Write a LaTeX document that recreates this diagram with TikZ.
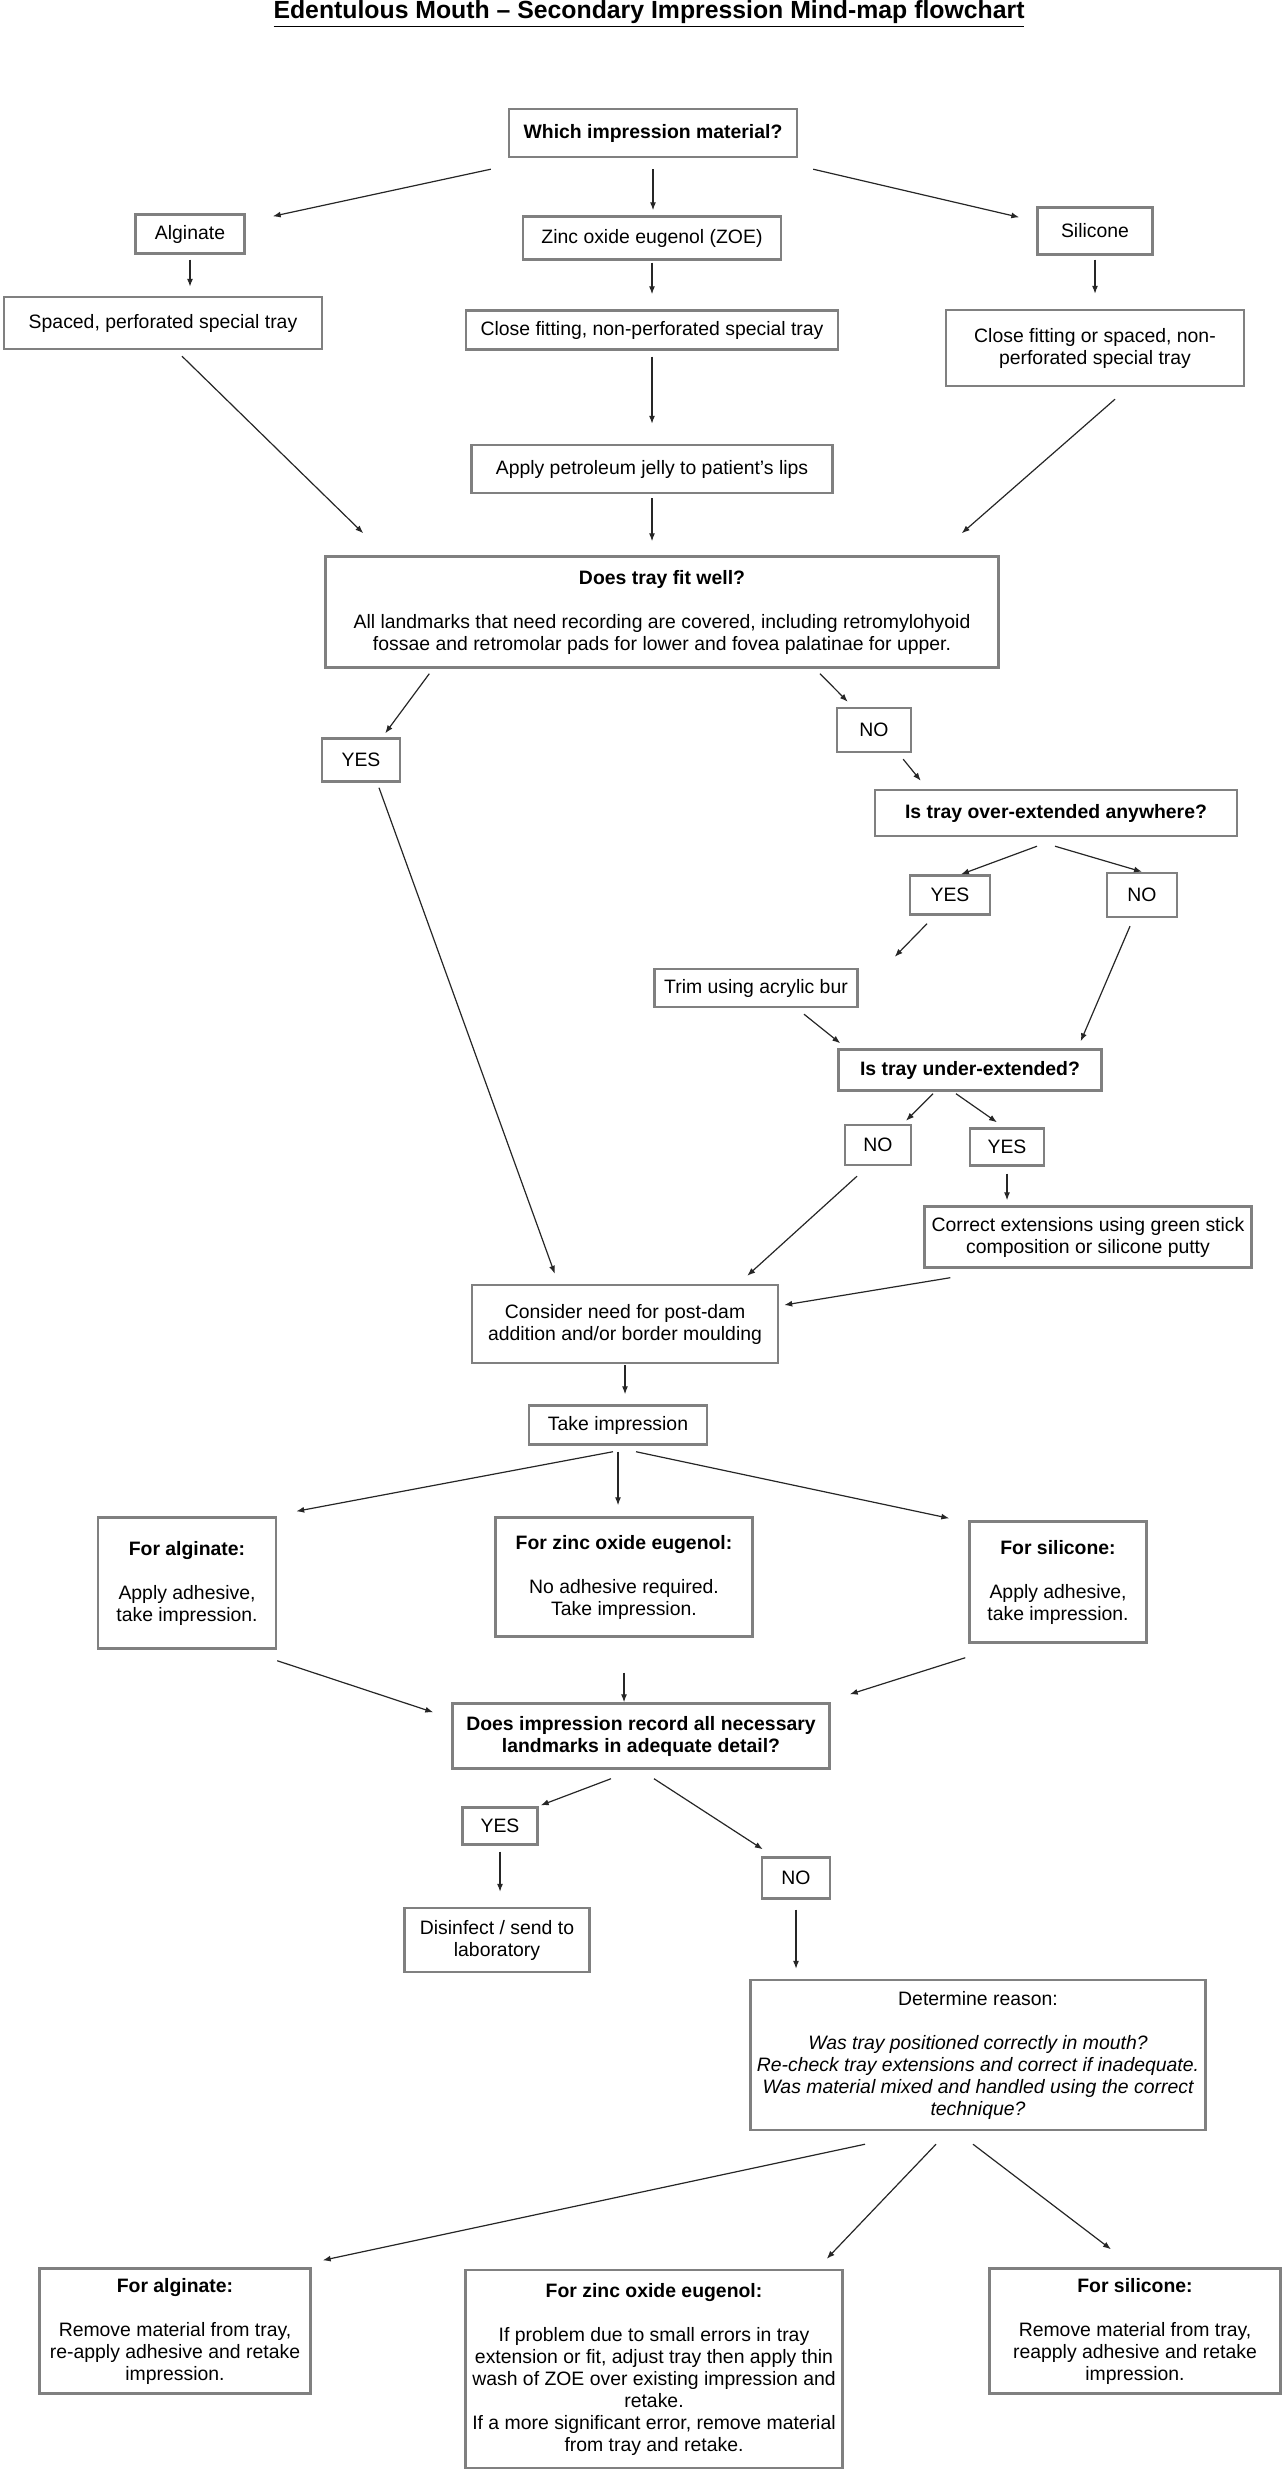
\documentclass[tikz,border=0pt]{standalone}
\usepackage{fontspec}
\setmainfont{Liberation Sans}
\usetikzlibrary{arrows.meta}

\tikzset{
  box/.style={draw=black!50, line width=1.2pt, fill=white, align=center, inner sep=0pt,
    font=\fontsize{9.7}{11}\selectfont},
  boldbox/.style={box, font=\fontsize{9.7}{11}\selectfont\bfseries},
  sz/.style 2 args={minimum width=#1*0.5pt, minimum height=#2*0.5pt},
  arr/.style={-{Latex[length=4pt,width=3pt]}, line width=0.6pt, black!85}
}

\begin{document}
\begin{tikzpicture}[x=0.5pt, y=-0.5pt]
  \useasboundingbox (0,0) rectangle (1286,2490);

  \node[font=\fontsize{12.4}{14}\selectfont\bfseries] (title) at (649,14)
    {\underline{Edentulous Mouth – Secondary Impression Mind-map flowchart}};

  % material and trays
  \node[boldbox, sz={288}{48}] (material) at (653,133) {Which impression material?};
  \node[box, sz={109}{39}] (alginate) at (190,234) {Alginate};
  \node[box, sz={258}{43}] (zoe) at (652,238) {Zinc oxide eugenol (ZOE)};
  \node[box, sz={115}{47}] (silicone) at (1095,231) {Silicone};
  \node[box, sz={318}{52}] (trayA) at (163,323) {Spaced, perforated special tray};
  \node[box, sz={372}{39}] (trayZ) at (652,330) {Close fitting, non-perforated special tray};
  \node[box, sz={298}{76}] (trayS) at (1095,348) {Close fitting or spaced, non-\\perforated special tray};
  \node[box, sz={361}{48}] (jelly) at (652,469) {Apply petroleum jelly to patient's lips};

  % tray fit
  \node[box, sz={673}{111}] (fit) at (662,612)
    {\textbf{Does tray fit well?}\\[11pt]All landmarks that need recording are covered, including retromylohyoid\\fossae and retromolar pads for lower and fovea palatinae for upper.};
  \node[box, sz={78}{43}] (fitYes) at (361,760) {YES};
  \node[box, sz={74}{44}] (fitNo) at (874,730) {NO};
  \node[boldbox, sz={362}{46}] (over) at (1056,813) {Is tray over-extended anywhere?};
  \node[box, sz={80}{39}] (overYes) at (950,895) {YES};
  \node[box, sz={70}{44}] (overNo) at (1142,895) {NO};
  \node[box, sz={203}{38}] (trim) at (756,988) {Trim using acrylic bur};
  \node[boldbox, sz={263}{41}] (under) at (970,1070) {Is tray under-extended?};
  \node[box, sz={66}{40}] (underNo) at (878,1145) {NO};
  \node[box, sz={74}{37}] (underYes) at (1007,1147) {YES};
  \node[box, sz={327}{61}] (correct) at (1088,1237) {Correct extensions using green stick\\composition or silicone putty};
  \node[box, sz={306}{78}] (postdam) at (625,1324) {Consider need for post-dam\\addition and/or border moulding};
  \node[box, sz={178}{39}] (take) at (618,1425) {Take impression};

  % taking the impression
  \node[box, sz={178}{131}] (impA) at (187,1583) {\textbf{For alginate:}\\[11pt]Apply adhesive,\\take impression.};
  \node[box, sz={257}{119}] (impZ) at (624,1577) {\textbf{For zinc oxide eugenol:}\\[11pt]No adhesive required.\\Take impression.};
  \node[box, sz={177}{121}] (impS) at (1058,1582) {\textbf{For silicone:}\\[11pt]Apply adhesive,\\take impression.};
  \node[boldbox, sz={377}{65}] (record) at (641,1736) {Does impression record all necessary\\landmarks in adequate detail?};
  \node[box, sz={75}{37}] (recYes) at (500,1826) {YES};
  \node[box, sz={68}{41}] (recNo) at (796,1878) {NO};
  \node[box, sz={185}{64}] (disinfect) at (497,1940) {Disinfect / send to\\laboratory};
  \node[box, sz={455}{150}] (reason) at (978,2055)
    {Determine reason:\\[11pt]\itshape Was tray positioned correctly in mouth?\\\itshape Re-check tray extensions and correct if inadequate.\\\itshape Was material mixed and handled using the correct\\\itshape technique?};

  % retaking
  \node[box, sz={271}{125}] (redoA) at (175,2331)
    {\textbf{For alginate:}\\[11pt]Remove material from tray,\\re-apply adhesive and retake\\impression.};
  \node[box, sz={377}{198}] (redoZ) at (654,2369)
    {\textbf{For zinc oxide eugenol:}\\[11pt]If problem due to small errors in tray\\extension or fit, adjust tray then apply thin\\wash of ZOE over existing impression and\\retake.\\If a more significant error, remove material\\from tray and retake.};
  \node[box, sz={291}{125}] (redoS) at (1135,2331)
    {\textbf{For silicone:}\\[11pt]Remove material from tray,\\reapply adhesive and retake\\impression.};

  % arrows
  \draw[arr] ([xshift=-8.5pt,yshift=-5.5pt]material.south west) -- ([xshift=13.5pt,yshift=-1.5pt]alginate.north east);
  \draw[arr, shorten <=5.5pt, shorten >=2.5pt] (material.south) -- (material.south |- zoe.north);
  \draw[arr] ([xshift=7.5pt,yshift=-5.5pt]material.south east) -- ([xshift=-8.5pt,yshift=-5.5pt]silicone.north west);
  \draw[arr, shorten <=2.5pt, shorten >=4.5pt] (alginate.south) -- (alginate.south |- trayA.north);
  \draw[arr, shorten <=1pt, shorten >=7.5pt] (zoe.south) -- (zoe.south |- trayZ.north);
  \draw[arr, shorten <=2pt, shorten >=7.5pt] (silicone.south) -- (silicone.south |- trayS.north);
  \draw[arr] ([xshift=9.5pt,yshift=-3pt]trayA.south) -- ([xshift=19.5pt,yshift=11pt]fit.north west);
  \draw[arr, shorten <=3pt, shorten >=10pt] (trayZ.south) -- (trayZ.south |- jelly.north);
  \draw[arr] ([xshift=10pt,yshift=-6pt]trayS.south) -- ([xshift=-19pt,yshift=11pt]fit.north east);
  \draw[arr, shorten <=2pt, shorten >=7pt] (jelly.south) -- (jelly.south |- fit.north);

  \draw[arr] ([xshift=52.5pt,yshift=-2.5pt]fit.south west) -- ([xshift=-8pt,yshift=2pt]fitYes.north east);
  \draw[arr] ([xshift=79pt,yshift=-2.5pt]fit.south) -- ([xshift=6pt,yshift=2.5pt]fitNo.north west);
  \draw[arr] ([xshift=-4.5pt,yshift=-3pt]fitNo.south east) -- ([xshift=23.5pt,yshift=4pt]over.north west);
  \draw[arr] ([xshift=9pt,yshift=-2.5pt]fitYes.south) -- ([xshift=42pt,yshift=5pt]postdam.north west);
  \draw[arr] ([xshift=-9.5pt,yshift=-4.5pt]over.south) -- ([xshift=5.5pt]overYes.north);
  \draw[arr] ([xshift=-0.5pt,yshift=-4.5pt]over.south) -- (overNo.north);
  \draw[arr] ([xshift=-11.5pt,yshift=-4pt]overYes.south) -- ([xshift=18pt,yshift=5.5pt]trim.north east);
  \draw[arr] ([xshift=-6pt,yshift=-4pt]overNo.south) -- ([xshift=-11pt,yshift=3.5pt]under.north east);
  \draw[arr] ([xshift=24pt,yshift=-3pt]trim.south) -- ([xshift=1.5pt,yshift=2.5pt]under.north west);
  \draw[arr] ([xshift=-18.5pt,yshift=-1pt]under.south) -- ([xshift=14pt,yshift=1.5pt]underNo.north);
  \draw[arr] ([xshift=-7pt,yshift=-1pt]under.south) -- ([xshift=-5pt,yshift=2.5pt]underYes.north);
  \draw[arr] ([xshift=-10.5pt,yshift=-5pt]underNo.south) -- ([xshift=-16pt,yshift=4pt]postdam.north east);
  \draw[arr, shorten <=3.5pt, shorten >=2.5pt] (underYes.south) -- (underYes.south |- correct.north);
  \draw[arr] ([xshift=13.5pt,yshift=-4.5pt]correct.south west) -- ([xshift=2.5pt,yshift=9.5pt]postdam.east);
  \draw[arr, shorten <=0.5pt, shorten >=5pt] (postdam.south) -- (postdam.south |- take.north);

  \draw[arr] ([xshift=-2.5pt,yshift=-3pt]take.south) -- ([xshift=9.5pt,yshift=2.5pt]impA.north east);
  \draw[arr, shorten <=3pt, shorten >=5.5pt] (take.south) -- (take.south |- impZ.north);
  \draw[arr] ([xshift=9pt,yshift=-3pt]take.south) -- ([xshift=-9.5pt,yshift=1pt]impS.north west);
  \draw[arr] ([yshift=-5.5pt]impA.south east) -- ([xshift=-9pt,yshift=-5pt]record.north west);
  \draw[arr, shorten <=17.5pt] (impZ.south) -- (impZ.south |- record.north);
  \draw[arr] ([xshift=-1.5pt,yshift=-7pt]impS.south west) -- ([xshift=9.5pt,yshift=4pt]record.north east);
  \draw[arr] ([xshift=-15pt,yshift=-4.5pt]record.south) -- ([xshift=1pt,yshift=0.5pt]recYes.north east);
  \draw[arr] ([xshift=6.5pt,yshift=-4.5pt]record.south) -- ([xshift=1pt,yshift=3.5pt]recNo.north west);
  \draw[arr, shorten <=3pt, shorten >=7.5pt] (recYes.south) -- (recYes.south |- disinfect.north);
  \draw[arr, shorten <=5pt, shorten >=5pt] (recNo.south) -- (recNo.south |- reason.north);

  \draw[arr] ([xshift=-56.5pt,yshift=-6.5pt]reason.south) -- ([xshift=5.5pt,yshift=3.5pt]redoA.north east);
  \draw[arr] ([xshift=-21pt,yshift=-6.5pt]reason.south) -- ([xshift=-8.5pt,yshift=5pt]redoZ.north east);
  \draw[arr] ([xshift=-2.5pt,yshift=-6.5pt]reason.south) -- ([xshift=-12pt,yshift=9pt]redoS.north);
\end{tikzpicture}
\end{document}
